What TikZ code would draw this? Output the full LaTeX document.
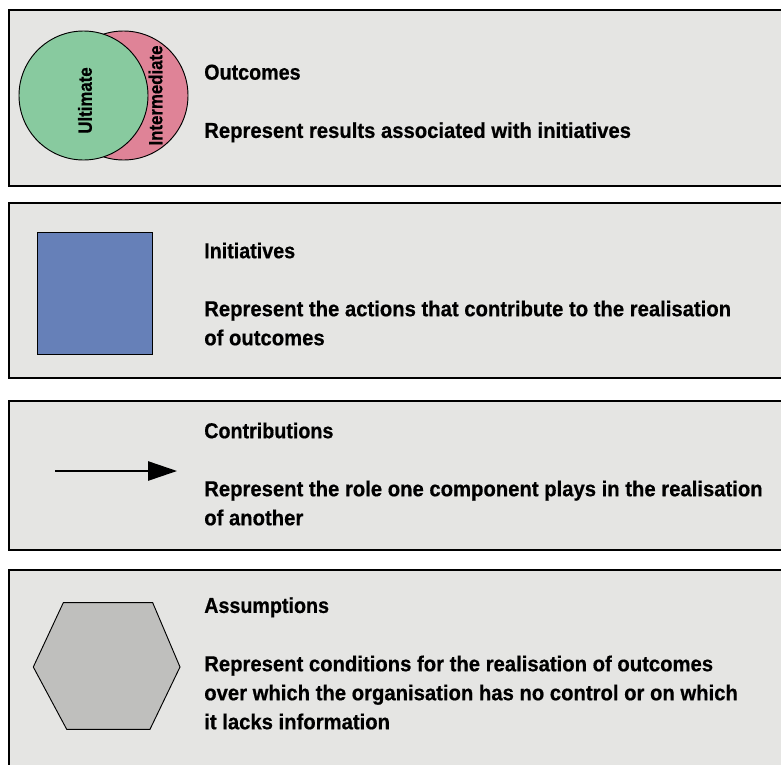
\documentclass[tikz,border=0pt]{standalone}
\usepackage{fontspec}
\setmainfont{Liberation Sans}[BoldFeatures={FakeStretch=0.938,FakeBold=0.6}]
\newfontfamily\titlefam{Liberation Sans}[BoldFeatures={FakeStretch=0.912,FakeBold=0.6}]
\newfontfamily\vlabelfam{Liberation Sans}[BoldFeatures={FakeStretch=0.888,FakeBold=0.6}]
\usetikzlibrary{arrows.meta}
\tikzset{
  panel/.style={fill=panelgrey,draw=black,line width=1.5pt},
  shapeline/.style={draw=black,line width=0.7pt},
  lbl/.style={anchor=north west,inner sep=0pt,align=left,font=\fontsize{16.2pt}{21.75pt}\selectfont\bfseries},
  ttl/.style={lbl,font=\titlefam\fontsize{16.2pt}{21.75pt}\selectfont\bfseries},
  vlbl/.style={inner sep=0pt,rotate=90,font=\vlabelfam\fontsize{14.2pt}{15pt}\selectfont\bfseries},
}
\definecolor{panelgrey}{HTML}{E5E5E3}
\definecolor{greenc}{HTML}{88CA9F}
\definecolor{pinkc}{HTML}{DF8397}
\definecolor{bluec}{HTML}{6680B8}
\definecolor{hexc}{HTML}{BFBFBD}
\begin{document}
\begin{tikzpicture}[x=0.75pt,y=-0.75pt]
\useasboundingbox (0,0) rectangle (781,764);
\clip (0,0) rectangle (781,764);
% panels
\draw[panel] (8.5,9.5) rectangle (800,185.5);
\draw[panel] (8.5,202.7) rectangle (800,378);
\draw[panel] (8.5,400.5) rectangle (800,550);
\draw[panel] (8.5,570) rectangle (800,790);
% outcomes
\draw[shapeline,fill=pinkc] (123.5,95.5) circle[radius=64.5];
\draw[shapeline,fill=greenc] (83.5,95.5) circle[radius=64.5];
\node[vlbl] (ultimate) at (85,100.5) {Ultimate};
\node[vlbl] (intermediate) at (155.5,95.5) {Intermediate};
\node[ttl] (t1) at (204,64.3) {Outcomes};
\node[lbl] (b1) at (204,122) {Represent results associated with initiatives};
% initiatives
\draw[shapeline,fill=bluec] (37,232) rectangle (152,354);
\node[ttl] (t2) at (204,242.3) {Initiatives};
\node[lbl] (b2) at (204,300.3) {Represent the actions that contribute to the realisation\\of outcomes};
% contributions
\coordinate (a) at (55,471);
\coordinate (b) at (177,471);
\draw[line width=1.2pt,-{Triangle[length=21.75pt,width=14.5pt]}] (a) -- (b);
\node[ttl] (t3) at (204,422.3) {Contributions};
\node[lbl] (b3) at (204,480.3) {Represent the role one component plays in the realisation\\of another};
% assumptions
\draw[shapeline,fill=hexc] (63.3,602.7) -- (152.7,602.7) -- (180,667) -- (150,729.3) -- (66.7,729.3) -- (33.3,667) -- cycle;
\node[ttl] (t4) at (204,597) {Assumptions};
\node[lbl] (b4) at (204,655.3) {Represent conditions for the realisation of outcomes\\over which the organisation has no control or on which\\it lacks information};
\end{tikzpicture}
\end{document}
